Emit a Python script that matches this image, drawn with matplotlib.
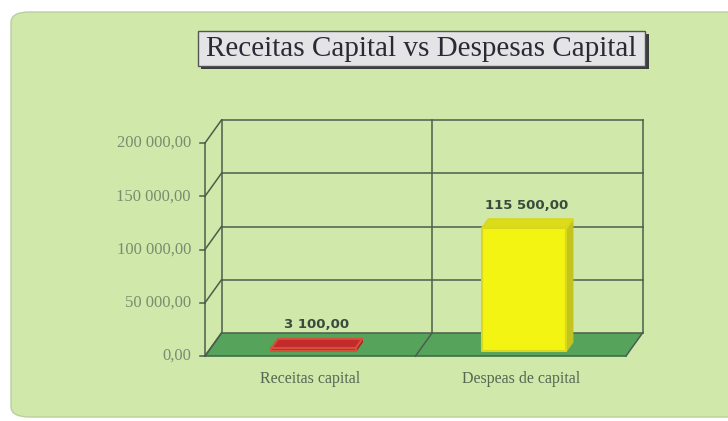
import numpy as np
import matplotlib.pyplot as plt
from matplotlib.patches import Polygon, FancyBboxPatch, Rectangle
from matplotlib.transforms import IdentityTransform

categories = ["Receitas capital", "Despeas de capital"]
values = [3100, 115500]
value_labels = ["3 100,00", "115 500,00"]
ticks = [0, 50000, 100000, 150000, 200000]
tick_labels = ["0,00", "50 000,00", "100 000,00", "150 000,00", "200 000,00"]

W, H = 728, 421
fig = plt.figure(figsize=(W / 100, H / 100), dpi=100)
fig.patch.set_facecolor("white")

# green rounded panel
panel = FancyBboxPatch((11 / W, 4 / H), 740 / W, (H - 16) / H,
                       boxstyle="round,pad=0,rounding_size=0.025",
                       transform=fig.transFigure, facecolor="#d0e8aa",
                       edgecolor="#b9cfa0", lw=1.0, zorder=-5)
fig.patches.append(panel)

# title box with shadow
fig.patches.append(Rectangle((201 / W, (H - 69) / H), 448 / W, 35 / H,
                             transform=fig.transFigure, facecolor="#3c3c3c",
                             edgecolor="none", zorder=1))
fig.patches.append(Rectangle((198 / W, (H - 66) / H), 447 / W, 35 / H,
                             transform=fig.transFigure, facecolor="#e4e4e6",
                             edgecolor="#555555", lw=1.0, zorder=2))
fig.text(421.5 / W, 1 - 49 / H, "Receitas Capital vs Despesas Capital",
         ha="center", va="center", fontsize=21, family="Liberation Serif",
         color="#2a2a35", zorder=3)

ax = fig.add_axes([205 / W, (H - 356) / H, 421 / W, 213 / H])
ax.set_zorder(5)
ax.set_xlim(-0.5, 1.5)
ax.set_ylim(0, 200000)
ax.axis("off")

DX, DY = 16.5, 23.0  # depth offset in pixels


def pt(x, y, d=0.0):
    px, py = ax.transData.transform((x, y))
    return (px + d * DX, py + d * DY)


def poly(points, **kw):
    p = Polygon(points, closed=True, transform=IdentityTransform(),
                clip_on=False, **kw)
    ax.add_artist(p)


def line(p1, p2, **kw):
    ax.add_artist(plt.Line2D([p1[0], p2[0]], [p1[1], p2[1]],
                             transform=IdentityTransform(), clip_on=False, **kw))


grid_c = "#4b5e4c"
# floor
poly([pt(-0.5, 0, 0), pt(1.5, 0, 0), pt(1.5, 0, 1), pt(-0.5, 0, 1)],
     facecolor="#56a35c", edgecolor="none", zorder=1)
line(pt(-0.5, 0, 0), pt(1.5, 0, 0), color="#3e6e45", lw=1.2, zorder=2)

# back wall gridlines and side wall
for t in ticks:
    line(pt(-0.5, t, 1), pt(1.5, t, 1), color=grid_c, lw=1.1, zorder=1)
    line(pt(-0.5, t, 0), pt(-0.5, t, 1), color=grid_c, lw=1.1, zorder=1)
    p = pt(-0.5, t, 0)
    line((p[0] - 5, p[1]), p, color=grid_c, lw=1.1, zorder=1)
for xv in [-0.5, 0.5, 1.5]:
    line(pt(xv, 0, 1), pt(xv, 200000, 1), color=grid_c, lw=1.1, zorder=1)
    line(pt(xv, 0, 0), pt(xv, 0, 1), color=grid_c, lw=1.1, zorder=2)
line(pt(-0.5, 0, 0), pt(-0.5, 200000, 0), color=grid_c, lw=1.1, zorder=2)

# bars
d0, d1 = 0.2, 0.6
bw = 0.4
styles = [("#c42a2c", "#c22a2c", "#a82626", "#d4503a"),
          ("#f4f412", "#dcdc1a", "#c4c41e", "#d8d820")]
for i, v in enumerate(values):
    front_c, top_c, side_c, edge_c = styles[i]
    x0, x1 = i - bw / 2, i + bw / 2
    poly([pt(x1, 0, d0), pt(x1, 0, d1), pt(x1, v, d1), pt(x1, v, d0)],
         facecolor=side_c, edgecolor=side_c, lw=1.0, zorder=4)
    poly([pt(x0, v, d0), pt(x1, v, d0), pt(x1, v, d1), pt(x0, v, d1)],
         facecolor=top_c, edgecolor=edge_c, lw=1.5, joinstyle="round",
         zorder=4)
    poly([pt(x0, 0, d0), pt(x1, 0, d0), pt(x1, v, d0), pt(x0, v, d0)],
         facecolor=front_c, edgecolor=edge_c, lw=1.5, joinstyle="round",
         zorder=5)
    tx, ty = pt(i, v, d1)
    ax.text(tx - 4, ty + 14, value_labels[i], transform=IdentityTransform(),
            ha="center", va="center", fontsize=9.5, fontweight="bold",
            family="DejaVu Sans", color="#3a4a3c", zorder=6)
    cx, cy = pt(i, 0, 0)
    ax.text(cx, cy - 23, categories[i], transform=IdentityTransform(),
            ha="center", va="center", fontsize=11.5, family="Liberation Serif",
            color="#566852", zorder=6)

for t, lab in zip(ticks, tick_labels):
    px, py = pt(-0.5, t, 0)
    ax.text(px - 14, py, lab, transform=IdentityTransform(), ha="right",
            va="center", fontsize=12, family="Liberation Serif",
            color="#7a8c70", zorder=6)

fig.savefig("out.png", dpi=100)
